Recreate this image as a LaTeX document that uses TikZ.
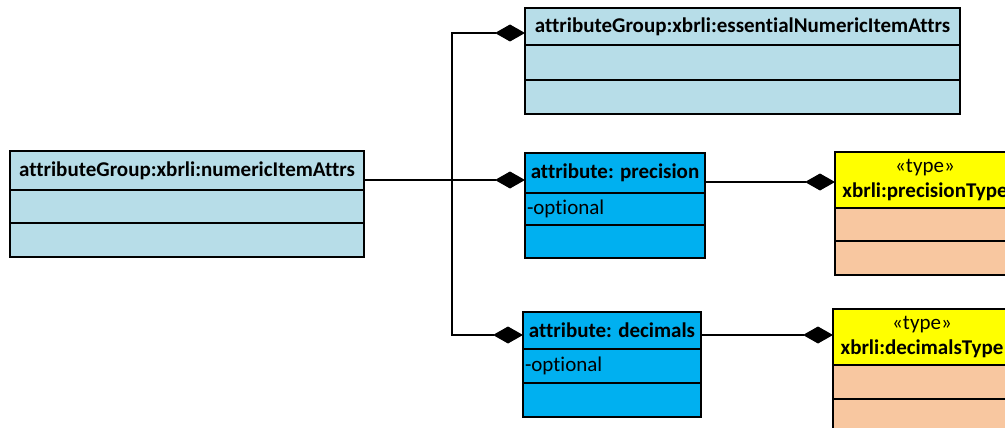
\documentclass[tikz,border=0pt]{standalone}
\usepackage{fontspec}
\setmainfont{Carlito}[Ligatures=NoCommon]
\usetikzlibrary{positioning,arrows.meta}
\definecolor{grpblue}{RGB}{183,221,232}
\definecolor{attblue}{RGB}{0,176,240}
\definecolor{typeyellow}{RGB}{255,255,0}
\definecolor{typepeach}{RGB}{248,199,160}

\begin{document}
\begin{tikzpicture}[x=1pt,y=-1pt,
 every node/.style={font=\fontsize{21}{25}\selectfont},
 box/.style={draw,line width=1.5pt,inner xsep=2pt,inner ysep=0pt,outer sep=0pt,align=left},
 hdr/.style={box,align=center,anchor=north west,font=\fontsize{21}{25}\selectfont\bfseries},
 typehdr/.style={box,align=center,anchor=north west,fill=typeyellow,minimum height=56pt},
 comp/.style={line width=1.3pt,-{Diamond[length=30pt,width=17pt]}}]
\useasboundingbox (0,0) rectangle (1005,428);
\clip (0,0) rectangle (1005,428);
% attribute group on the left
\node[hdr,fill=grpblue,minimum width=354pt,minimum height=39pt] (numHdr) at (10,151) {attributeGroup:xbrli:numericItemAttrs};
\node[box,fill=grpblue,text width=350pt,minimum height=33pt,below=0pt of numHdr] (numA) {};
\node[box,fill=grpblue,text width=350pt,minimum height=34pt,below=0pt of numA] (numB) {};
% essential attributes
\node[hdr,fill=grpblue,minimum width=435pt,minimum height=37pt] (essHdr) at (525,8) {attributeGroup:xbrli:essentialNumericItemAttrs};
\node[box,fill=grpblue,text width=431pt,minimum height=35pt,below=0pt of essHdr] (essA) {};
\node[box,fill=grpblue,text width=431pt,minimum height=34pt,below=0pt of essA] (essB) {};
% precision
\node[hdr,fill=attblue,minimum width=180pt,minimum height=40pt] (precHdr) at (525,153) {attribute: precision};
\node[box,fill=attblue,text width=176pt,minimum height=32pt,below=0pt of precHdr] (precA) {-optional};
\node[box,fill=attblue,text width=176pt,minimum height=33pt,below=0pt of precA] (precB) {};
% decimals
\node[hdr,fill=attblue,minimum width=178pt,minimum height=37pt] (decHdr) at (523,312) {attribute: decimals};
\node[box,fill=attblue,text width=174pt,minimum height=34pt,below=0pt of decHdr] (decA) {-optional};
\node[box,fill=attblue,text width=174pt,minimum height=34pt,below=0pt of decA] (decB) {};
% types
\node[typehdr,minimum width=180pt] (ptHdr) at (835,152) {«type»\\\textbf{xbrli:precisionType}};
\node[box,fill=typepeach,text width=176pt,minimum height=33pt,below=0pt of ptHdr] (ptA) {};
\node[box,fill=typepeach,text width=176pt,minimum height=34pt,below=0pt of ptA] (ptB) {};
\node[typehdr,minimum width=178pt] (dtHdr) at (833,309) {«type»\\\textbf{xbrli:decimalsType}};
\node[box,fill=typepeach,text width=174pt,minimum height=34pt,below=0pt of dtHdr] (dtA) {};
\node[box,fill=typepeach,text width=174pt,minimum height=34pt,below=0pt of dtA] (dtB) {};
% connectors
\coordinate (bus) at (452,0);
\coordinate (numOut) at ([yshift=-9.5pt]numHdr.east);
\coordinate (precOut) at ([yshift=-9pt]precHdr.east);
\coordinate (decOut) at ([yshift=-4.5pt]decHdr.east);
\draw[comp] (numOut) -- ([yshift=-7pt]precHdr.west);
\draw[comp] (bus |- numOut) |- ([yshift=-6.5pt]essHdr.west);
\draw[comp] (bus |- numOut) |- ([yshift=-4.5pt]decHdr.west);
\draw[comp] (precOut) -- (precOut -| ptHdr.west);
\draw[comp] (decOut) -- (decOut -| dtHdr.west);
\end{tikzpicture}
\end{document}
